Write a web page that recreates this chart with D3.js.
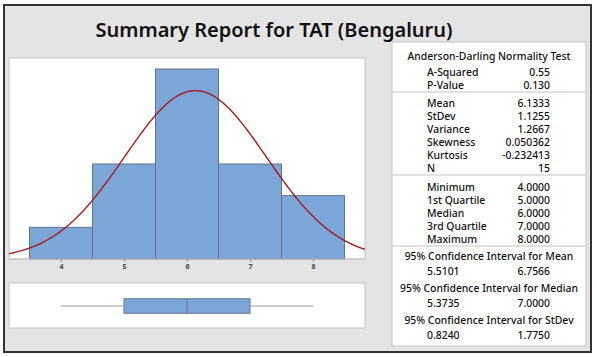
<!DOCTYPE html>
<html><head><meta charset="utf-8">
<script src="https://cdn.jsdelivr.net/npm/d3@7"></script>
<style>html,body{margin:0;padding:0;background:#fff;}svg{display:block;}</style>
</head><body>
<svg id="c" width="597" height="357"></svg>
<script>
// ---- data ----
const titleText = "Summary Report for TAT (Bengaluru)";
const binCenters = [4, 5, 6, 7, 8];
const binCounts = [1, 3, 6, 3, 2];
const xTicks = [4, 5, 6, 7, 8];
const boxStats = [4, 5, 6, 7, 8]; // min, Q1, median, Q3, max
const fitMean = 6.1333, fitSd = 1.1255, fitN = 15;
const adLabels = ["A-Squared", "P-Value"];
const adValues = ["0.55", "0.130"];
const momLabels = ["Mean", "StDev", "Variance", "Skewness", "Kurtosis", "N"];
const momValues = ["6.1333", "1.1255", "1.2667", "0.050362", "-0.232413", "15"];
const qLabels = ["Minimum", "1st Quartile", "Median", "3rd Quartile", "Maximum"];
const qValues = ["4.0000", "5.0000", "6.0000", "7.0000", "8.0000"];
const ciTitles = ["95% Confidence Interval for Mean", "95% Confidence Interval for Median", "95% Confidence Interval for StDev"];
const ciLow = ["5.5101", "5.3735", "0.8240"];
const ciHigh = ["6.7566", "7.0000", "1.7750"];

// ---- drawing ----
const svg = d3.select("#c");
const font = "'Noto Sans', 'Open Sans', sans-serif";
const bg = "#e4e4e4", panelStroke = "#c3c3c3", barFill = "#7ca6d8", barStroke = "#607488", curveCol = "#a31d1d";

svg.append("rect").attr("x", 4).attr("y", 5).attr("width", 587).attr("height", 347)
  .attr("fill", bg).attr("stroke", "#333").attr("stroke-width", 2);

svg.append("text").attr("x", 274).attr("y", 37).attr("text-anchor", "middle")
  .attr("font-family", font).attr("font-size", 20).attr("font-weight", 600).attr("fill", "#111").text(titleText);

// histogram panel
const pL = 9, pR = 365, pT = 58, pB = 259;
svg.append("rect").attr("x", pL).attr("y", pT).attr("width", pR - pL).attr("height", pB - pT)
  .attr("fill", "#fff").attr("stroke", panelStroke).attr("stroke-width", 1);

const x = d3.scaleLinear().domain([4, 8]).range([61, 313]);
const y = d3.scaleLinear().domain([0, 6]).range([pB, 69]);
const bw = 1;

svg.append("g").selectAll("rect").data(binCenters).join("rect")
  .attr("x", (d) => x(d - bw / 2))
  .attr("y", (d, i) => y(binCounts[i]))
  .attr("width", (d) => x(d + bw / 2) - x(d - bw / 2))
  .attr("height", (d, i) => y(0) - y(binCounts[i]))
  .attr("fill", barFill).attr("stroke", barStroke).attr("stroke-width", 1);

// fitted normal curve
const xDom = [x.invert(pL), x.invert(pR)];
const pts = d3.range(0, 201).map(k => {
  const xv = xDom[0] + (xDom[1] - xDom[0]) * k / 200;
  const z = (xv - fitMean) / fitSd;
  return [xv, fitN * bw * Math.exp(-0.5 * z * z) / (fitSd * Math.sqrt(2 * Math.PI))];
});
svg.append("path").datum(pts)
  .attr("d", d3.line().x(d => x(d[0])).y(d => y(d[1])))
  .attr("fill", "none").attr("stroke", curveCol).attr("stroke-width", 1.4);

// redraw panel bottom edge
svg.append("line").attr("x1", pL).attr("x2", pR).attr("y1", pB).attr("y2", pB).attr("stroke", panelStroke);

const ax = svg.append("g").attr("transform", `translate(0,${pB})`)
  .call(d3.axisBottom(x).tickValues(xTicks).tickSize(3).tickPadding(2).tickFormat(d3.format("d")));
ax.select(".domain").remove();
ax.selectAll(".tick line").attr("stroke", "#999");
ax.selectAll(".tick text").attr("font-family", font).attr("font-size", 7).attr("font-weight", "bold").attr("fill", "#444");

// boxplot panel
const bT = 283, bB = 328;
svg.append("rect").attr("x", pL).attr("y", bT).attr("width", pR - pL).attr("height", bB - bT)
  .attr("fill", "#fff").attr("stroke", panelStroke).attr("stroke-width", 1);
const bY = 306, bH = 14.5;
svg.append("line").attr("x1", x(boxStats[0])).attr("x2", x(boxStats[1])).attr("y1", bY).attr("y2", bY).attr("stroke", "#999");
svg.append("line").attr("x1", x(boxStats[3])).attr("x2", x(boxStats[4])).attr("y1", bY).attr("y2", bY).attr("stroke", "#999");
svg.append("rect").attr("x", x(boxStats[1])).attr("y", bY - bH / 2).attr("width", x(boxStats[3]) - x(boxStats[1])).attr("height", bH)
  .attr("fill", barFill).attr("stroke", barStroke);
svg.append("line").attr("x1", x(boxStats[2])).attr("x2", x(boxStats[2])).attr("y1", bY - bH / 2).attr("y2", bY + bH / 2).attr("stroke", barStroke);

// stats panel
const sL = 392, sR = 586, sT = 42, sB = 346, sC = (sL + sR) / 2;
const labX = 427, valX = 550;
svg.append("rect").attr("x", sL).attr("y", sT).attr("width", sR - sL).attr("height", sB - sT)
  .attr("fill", "#fff").attr("stroke", panelStroke);
const st = svg.append("g").attr("font-family", font).attr("font-size", 10.4).attr("font-weight", 500).attr("fill", "#111");
function txt(xp, yp, s, anchor) {
  st.append("text").attr("x", xp).attr("y", yp).attr("text-anchor", anchor).text(s);
}
txt(sC, 60, "Anderson-Darling Normality Test", "middle");
adLabels.forEach((l, i) => { txt(labX, 76 + i * 12.5, l, "start"); txt(valX, 76 + i * 12.5, adValues[i], "end"); });
[92, 175, 246].forEach(yy => svg.append("line").attr("x1", sL).attr("x2", sR).attr("y1", yy).attr("y2", yy).attr("stroke", panelStroke));
momLabels.forEach((l, i) => { txt(labX, 107 + i * 12.9, l, "start"); txt(valX, 107 + i * 12.9, momValues[i], "end"); });
qLabels.forEach((l, i) => { txt(labX, 191 + i * 13, l, "start"); txt(valX, 191 + i * 13, qValues[i], "end"); });
ciTitles.forEach((t, i) => {
  txt(sC, 260 + i * 32, t, "middle");
  txt(labX, 275 + i * 32, ciLow[i], "start");
  txt(valX, 275 + i * 32, ciHigh[i], "end");
});
</script>
</body></html>
